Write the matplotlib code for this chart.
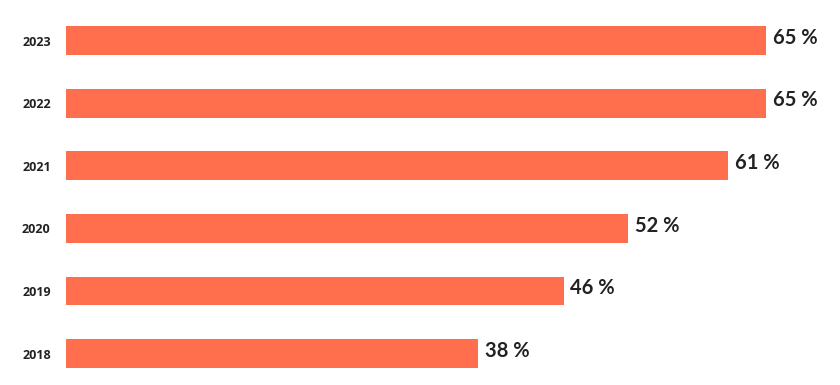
import matplotlib
matplotlib.use("Agg")
import matplotlib.pyplot as plt

years = ["2018", "2019", "2020", "2021", "2022", "2023"]
values = [38.3, 46.2, 52.2, 61.5, 65, 65]
labels = ["38 %", "46 %", "52 %", "61 %", "65 %", "65 %"]
bar_color = "#FF6F4D"

fig = plt.figure(figsize=(8.4, 3.85), dpi=100)
ax = fig.add_axes([66/840, 0.0005, (840-66)/840, 0.9756])
y = list(range(len(years)))
bars = ax.barh(y, values, height=0.46, color=bar_color)
ax.set_xlim(0, 71.87)
ax.set_ylim(-0.5, len(years) - 0.5)
ax.set_yticks(y)
ax.set_yticklabels(years, fontfamily="Open Sans", fontweight="bold", fontsize=9, color="#222222")
ax.tick_params(axis="y", length=0, pad=11)
ax.set_xticks([])
for s in ax.spines.values():
    s.set_visible(False)
for bar, lab in zip(bars, labels):
    ax.annotate(lab, (bar.get_width(), bar.get_y() + bar.get_height() / 2),
                xytext=(5, 2), textcoords="offset points", va="center", ha="left",
                fontfamily="Lato", fontweight="bold", fontsize=14.5, color="#222222")
fig.savefig("out.png", dpi=100)
